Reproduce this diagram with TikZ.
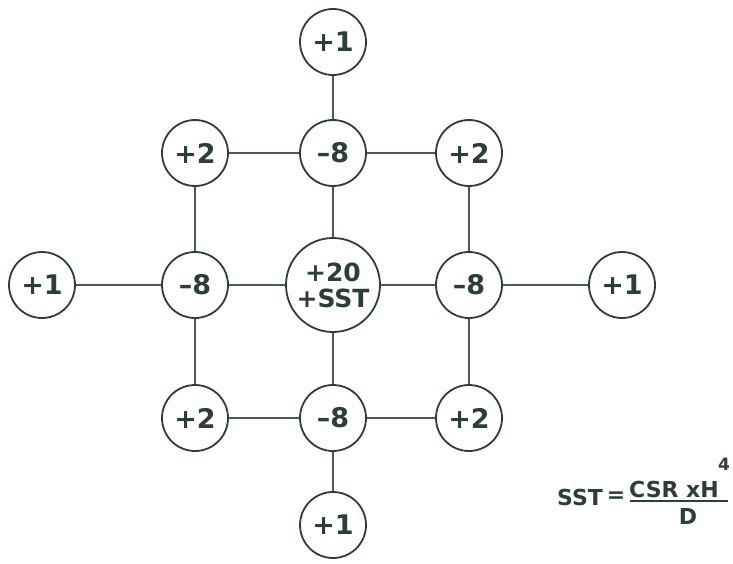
\documentclass[tikz,border=0pt]{standalone}
\usepackage{fontspec}
\setmainfont{DejaVu Sans}
\definecolor{ink}{RGB}{45,62,52}
\tikzset{
  cell/.style={circle, draw=ink, line width=1.8pt, fill=white, minimum size=66pt,
    inner sep=0pt, text=ink, font=\fontsize{27}{30}\selectfont\bfseries},
  hub/.style={cell, minimum size=94pt, font=\fontsize{25}{28}\selectfont\bfseries},
  link/.style={draw=ink!85, line width=1.4pt},
  eqn/.style={text=ink, inner sep=0pt, font=\fontsize{22}{24}\selectfont\bfseries}
}
\begin{document}
\begin{tikzpicture}[x=1pt, y=-1pt]
    % Page frame
    \useasboundingbox (0,0) rectangle (733,564);

    % Centre
    \node[hub, align=center] (c) at (333,285) {+20\\[-2pt]+SST};

    % Inner ring: the -8 cells
    \node[cell] (nt) at (333,153) {–8};
    \node[cell] (nl) at (195,285) {–8};
    \node[cell] (nr) at (469,285) {–8};
    \node[cell] (nb) at (333,418) {–8};

    % Corners: the +2 cells
    \node[cell] (tl) at (195,153) {+2};
    \node[cell] (tr) at (469,153) {+2};
    \node[cell] (bl) at (195,418) {+2};
    \node[cell] (br) at (469,418) {+2};

    % Outer tips: the +1 cells
    \node[cell] (ot) at (333,42) {+1};
    \node[cell] (ol) at (42,285) {+1};
    \node[cell] (or) at (622,285) {+1};
    \node[cell] (ob) at (333,525) {+1};

    % Connectors
    \foreach \a/\b in {ot/nt, tl/nt, nt/tr, tl/nl, nt/c, tr/nr,
                       ol/nl, nl/c, c/nr, nr/or,
                       nl/bl, c/nb, nr/br, bl/nb, nb/br, nb/ob}
        \draw[link] (\a) -- (\b);

    % The SST formula
    \node[eqn] (sst) at (580,497) {SST};
    \node[eqn, anchor=west] (eq) at (sst.east) {\,=};
    \node[eqn] (num) at (674,489) {CSR xH};
    \node[eqn, font=\fontsize{17}{19}\selectfont\bfseries] (pw) at (724,464) {4};
    \node[eqn] (den) at (688,516) {D};
    \draw[ink, line width=1.8pt] (630,501) -- (728,501);
\end{tikzpicture}
\end{document}
